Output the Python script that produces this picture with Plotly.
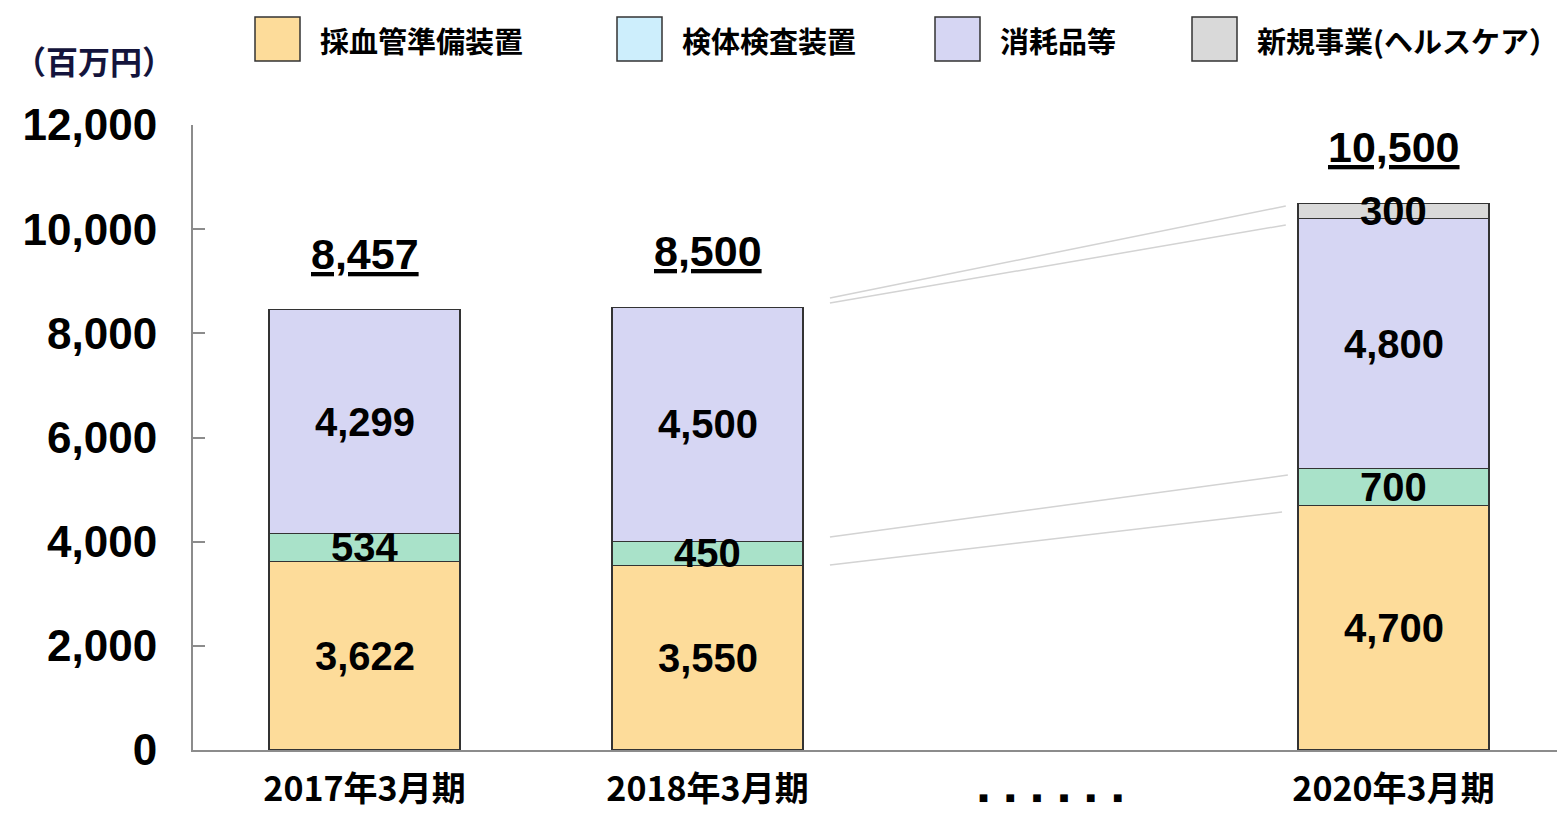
import plotly.graph_objects as go

# ---------------- data ----------------
categories = ["2017年3月期", "2018年3月期", "dots", "2020年3月期"]
blood_tube = [3622, 3550, None, 4700]      # 採血管準備装置
analyzer = [534, 450, None, 700]           # 検体検査装置
consumables = [4299, 4500, None, 4800]     # 消耗品等
healthcare = [None, None, None, 300]       # 新規事業(ヘルスケア)
totals = [8457, 8500, None, 10500]

series_names = ["採血管準備装置", "検体検査装置", "消耗品等", "新規事業(ヘルスケア）"]
bar_colors = ["#FDDC9A", "#A9E2C9", "#D6D6F3", "#D9D9D9"]
legend_colors = ["#FDDC9A", "#CDEEFC", "#D6D6F3", "#D9D9D9"]

y_ticks = [0, 2000, 4000, 6000, 8000, 10000, 12000]

# connector guide lines between 2018 and 2020 bars: (x0, y0, x1, y1) in data units
connectors = [
    (1.357, 8678, 2.686, 10445),
    (1.357, 8582, 2.686, 10080),
    (1.357, 4090, 2.692, 5280),
    (1.357, 3552, 2.675, 4570),
]

JP = "Noto Sans CJK JP"
NUM = "Liberation Sans"

# page body has an 8px margin; figure placed at (8, 8)
OFF = 8
W, H = 1565 - OFF, 815 - OFF

fig = go.Figure()
all_series = [blood_tube, analyzer, consumables, healthcare]
for name, vals, col in zip(series_names, all_series, bar_colors):
    fig.add_trace(go.Bar(
        x=list(range(len(categories))), y=vals, name=name,
        marker=dict(color=col, line=dict(color="#333333", width=1.2)),
        showlegend=False, hoverinfo="skip",
    ))

# segment labels
annotations = []
for i in range(len(categories)):
    base = 0
    for vals in all_series:
        v = vals[i]
        if v is None:
            continue
        annotations.append(dict(
            x=i, y=base + v / 2, xref="x", yref="y", text=f"{v:,}",
            showarrow=False, font=dict(family=NUM, size=40, color="black", weight="bold"),
            xanchor="center", yanchor="middle",
        ))
        base += v
    if totals[i] is not None:
        annotations.append(dict(
            x=i, y=totals[i], xref="x", yref="y", text=f"<u>{totals[i]:,}</u>",
            showarrow=False, font=dict(family=NUM, size=43, color="black", weight="bold"),
            xanchor="center", yanchor="middle", yshift=56,
        ))

# plot area in page pixels
L, R, T, B = 193, 1565, 125, 750
def pxx(x):
    return (x - L) / (R - L)
def pxy(y):
    return (B - y) / (B - T)

shapes = []
for (x0, y0, x1, y1) in connectors:
    shapes.append(dict(type="line", xref="x", yref="y", x0=x0, y0=y0, x1=x1, y1=y1,
                       line=dict(color="#D3D3D3", width=1.5)))

# custom legend
legend_left = [255, 617, 935, 1192]
for name, col, lx in zip(series_names, legend_colors, legend_left):
    shapes.append(dict(type="rect", xref="paper", yref="paper",
                       x0=pxx(lx), x1=pxx(lx + 45), y0=pxy(61), y1=pxy(17),
                       fillcolor=col, line=dict(color="#333333", width=1.5)))
    annotations.append(dict(x=pxx(lx + 63), y=pxy(40), xref="paper", yref="paper",
                            text=name, showarrow=False, xanchor="left", yanchor="middle",
                            font=dict(family=JP, size=29, color="black", weight="bold")))

# unit label
annotations.append(dict(x=pxx(94), y=pxy(60), xref="paper", yref="paper",
                        text="（百万円）", showarrow=False, xanchor="center", yanchor="middle",
                        font=dict(family=JP, size=32, color="#14143C", weight="bold")))

dots = ('<span style="font-family:DejaVu Sans;font-size:10px">'
        + "&nbsp;&nbsp;&nbsp;&nbsp;&nbsp;".join(["■"] * 6) + "</span>")
ticktext = [c if c != "dots" else dots for c in categories]

fig.update_layout(
    width=W, height=H,
    margin=dict(l=L - OFF, r=1565 - R, t=T - OFF, b=815 - B),
    paper_bgcolor="white", plot_bgcolor="white",
    barmode="stack", bargap=0.443,
    annotations=annotations, shapes=shapes,
    xaxis=dict(
        tickmode="array", tickvals=list(range(len(categories))), ticktext=ticktext,
        range=[-0.5, 3.5], showgrid=False, zeroline=False, automargin=False,
        showline=True, linecolor="#8C8C8C", linewidth=2, ticks="",
        tickfont=dict(family=JP, size=34, color="black", weight="bold"),
        ticklabelstandoff=8,
    ),
    yaxis=dict(
        range=[0, 12000], tickvals=y_ticks, tickformat=",", automargin=False,
        showgrid=False, zeroline=False, showline=True, linecolor="#8C8C8C", linewidth=2,
        ticks="inside", ticklen=12, tickwidth=2, tickcolor="#8C8C8C",
        tickfont=dict(family=NUM, size=44, color="black", weight="bold"),
        ticklabelstandoff=25,
    ),
)

fig.write_html("out.html")
